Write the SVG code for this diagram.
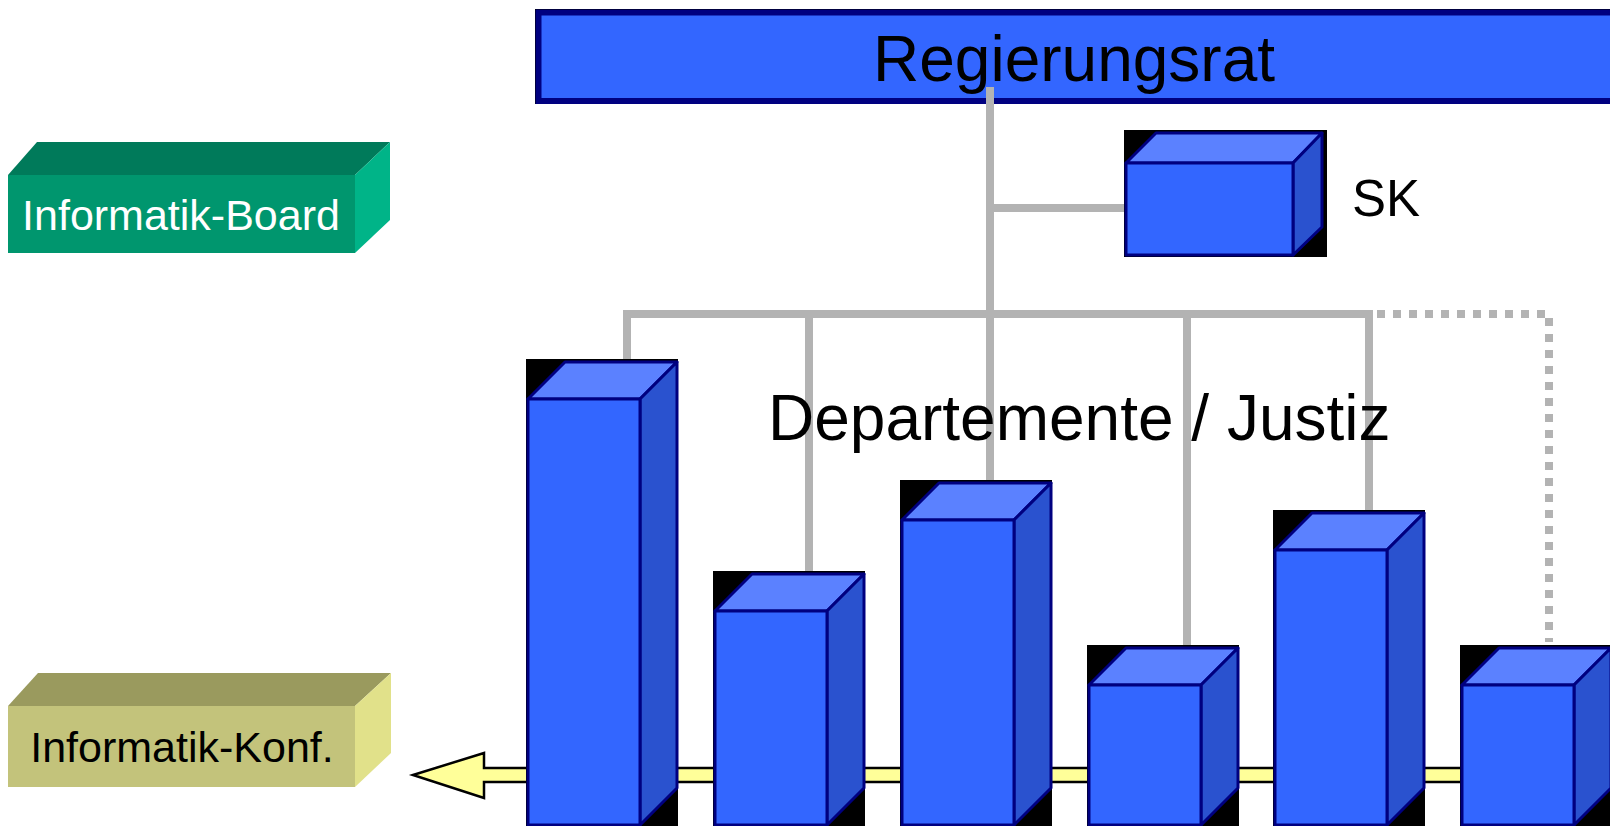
<svg xmlns="http://www.w3.org/2000/svg" width="1610" height="826" viewBox="0 0 1610 826">
<style>
.t{font-family:"Liberation Sans",Arial,sans-serif}
.bb{fill:#000}
.fr{fill:#3366FF;stroke:#000080;stroke-width:3;stroke-linejoin:round}
.tp{fill:#5B81FF;stroke:#000080;stroke-width:3;stroke-linejoin:round}
.rt{fill:#2A52CF;stroke:#000080;stroke-width:3;stroke-linejoin:round}
.cn{stroke:#B3B3B3;stroke-width:8;fill:none}
.dt{stroke:#B3B3B3;stroke-width:8;fill:none;stroke-dasharray:8 8}
</style>
<rect width="1610" height="826" fill="#fff"/>

<g id="regierungsrat">
<rect x="535.5" y="9.5" width="1090" height="94" fill="none" stroke="#000" stroke-width="1"/>
<rect x="538.5" y="12.5" width="1090" height="88.5" fill="#3366FF" stroke="#000080" stroke-width="6"/>
<text class="t" x="1074" y="81" font-size="64" text-anchor="middle" fill="#000">Regierungsrat</text>
</g>

<g id="connectors">
<polygon points="413,775 484,753 484,768 1620,768 1620,782 484,782 484,798" fill="#FFFF99" stroke="#000" stroke-width="2.5" stroke-linejoin="miter"/>
<line class="cn" x1="990" y1="87" x2="990" y2="481"/>
<line class="cn" x1="990" y1="208" x2="1126" y2="208"/>
<polyline class="cn" points="627,360 627,314 1373,314"/>
<line class="cn" x1="809" y1="314" x2="809" y2="572"/>
<line class="cn" x1="1187" y1="314" x2="1187" y2="646"/>
<line class="cn" x1="1369" y1="314" x2="1369" y2="511"/>
<polyline class="dt" points="1377,314 1549,314 1549,642"/>
</g>

<g id="informatik-board">
<polygon points="8,175 37,142 390,142 355,175" fill="#007A5A"/>
<polygon points="355,175 390,142 390,220 355,253" fill="#00B488"/>
<rect x="8" y="175" width="347" height="78" fill="#00966E"/>
<text class="t" x="181" y="230" font-size="43" text-anchor="middle" fill="#fff">Informatik-Board</text>
</g>

<g id="informatik-konf">
<polygon points="8,706 38,673 391,673 355,706" fill="#9A9A5E"/>
<polygon points="355,706 391,673 391,753 355,787" fill="#E1E18A"/>
<rect x="8" y="706" width="347" height="81" fill="#C3C37B"/>
<text class="t" x="182" y="762" font-size="43" text-anchor="middle" fill="#000">Informatik-Konf.</text>
</g>

<g id="sk">
<rect class="bb" x="1124" y="130" width="203" height="127"/>
<polygon class="tp" points="1126,163 1156,133 1322,133 1293,163"/>
<polygon class="rt" points="1293,163 1322,133 1322,227 1293,255"/>
<rect class="fr" x="1126" y="163" width="167" height="92"/>
<text class="t" x="1352" y="216" font-size="51" fill="#000">SK</text>
</g>

<g id="dept-1">
<rect class="bb" x="526" y="359" width="152" height="470"/>
<polygon class="tp" points="528,399 565,362 677,362 640,399"/>
<polygon class="rt" points="640,399 677,362 677,788 640,825"/>
<rect class="fr" x="528" y="399" width="112" height="426"/>
</g>

<g id="dept-2">
<rect class="bb" x="713" y="571" width="152" height="258"/>
<polygon class="tp" points="715,611 752,574 864,574 827,611"/>
<polygon class="rt" points="827,611 864,574 864,788 827,825"/>
<rect class="fr" x="715" y="611" width="112" height="214"/>
</g>

<g id="dept-3">
<rect class="bb" x="900" y="480" width="152" height="349"/>
<polygon class="tp" points="902,520 939,483 1051,483 1014,520"/>
<polygon class="rt" points="1014,520 1051,483 1051,788 1014,825"/>
<rect class="fr" x="902" y="520" width="112" height="305"/>
</g>

<g id="dept-4">
<rect class="bb" x="1087" y="645" width="152" height="184"/>
<polygon class="tp" points="1089,685 1126,648 1238,648 1201,685"/>
<polygon class="rt" points="1201,685 1238,648 1238,788 1201,825"/>
<rect class="fr" x="1089" y="685" width="112" height="140"/>
</g>

<g id="dept-5">
<rect class="bb" x="1273" y="510" width="152" height="319"/>
<polygon class="tp" points="1275,550 1312,513 1424,513 1387,550"/>
<polygon class="rt" points="1387,550 1424,513 1424,788 1387,825"/>
<rect class="fr" x="1275" y="550" width="112" height="275"/>
</g>

<g id="dept-6">
<rect class="bb" x="1460" y="645" width="152" height="184"/>
<polygon class="tp" points="1462,685 1499,648 1611,648 1574,685"/>
<polygon class="rt" points="1574,685 1611,648 1611,788 1574,825"/>
<rect class="fr" x="1462" y="685" width="112" height="140"/>
</g>

<g id="departemente-label">
<text class="t" x="768" y="440" font-size="64" fill="#000">Departemente / Justiz</text>
</g>
</svg>
